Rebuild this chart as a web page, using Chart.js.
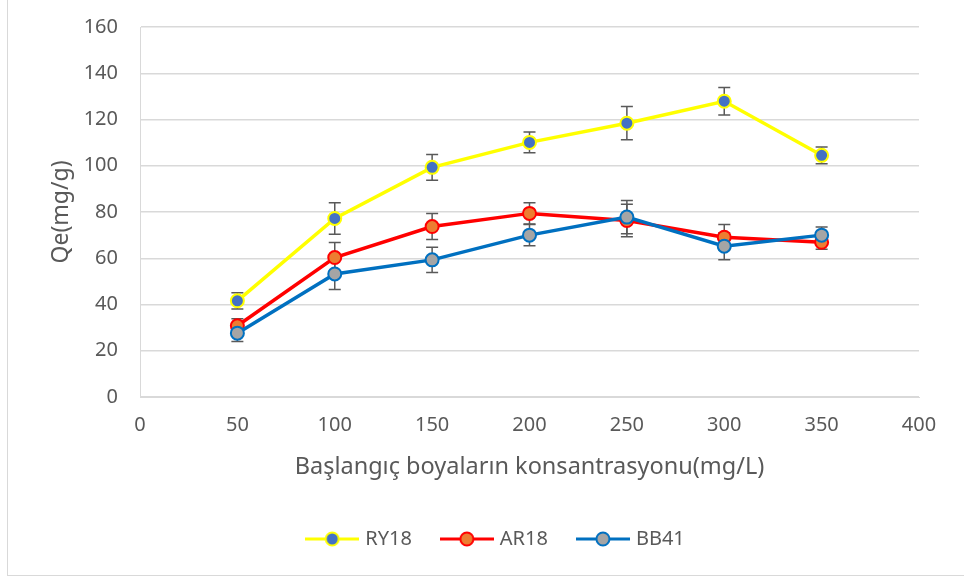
<!DOCTYPE html>
<html>
<head>
<meta charset="utf-8">
<script src="https://cdn.jsdelivr.net/npm/chart.js@4"></script>
<style>
  html, body { margin: 0; padding: 0; background: #fff; }
  #wrap { width: 964px; height: 579px; }
</style>
</head>
<body>
<div id="wrap"><canvas id="qeChart" width="964" height="579"></canvas></div>
<script>
const concentrations = [50, 100, 150, 200, 250, 300, 350];
const ry18 = [41.6, 77.2, 99.3, 110.1, 118.4, 127.9, 104.5];
const ar18 = [30.8, 60.3, 73.7, 79.4, 76.3, 69.1, 66.9];
const bb41 = [27.6, 53.2, 59.3, 70.0, 77.8, 65.2, 70.0];
const ry18Err = [3.5, 6.8, 5.6, 4.5, 7.2, 5.9, 3.6];
const ar18Err = [3.0, 6.5, 5.6, 4.6, 7.0, 5.5, 3.0];
const bb41Err = [3.6, 6.7, 5.5, 4.6, 7.2, 5.8, 3.5];

const FONT = '"Noto Sans", sans-serif';
const TXT = '#595959';

function pts(ys) {
    return concentrations.map((x, i) => ({ x: x, y: ys[i] }));
}

// legend symbol: short line with the marker on it
function legendIcon(line, fill) {
    const c = document.createElement('canvas');
    c.width = 54; c.height = 18;
    const g = c.getContext('2d');
    g.strokeStyle = line;
    g.lineWidth = 3;
    g.beginPath(); g.moveTo(0, 9); g.lineTo(54, 9); g.stroke();
    g.beginPath(); g.arc(27, 9, 6.5, 0, Math.PI * 2);
    g.fillStyle = fill; g.fill();
    g.lineWidth = 2; g.stroke();
    return c;
}

const errorBars = {
    id: 'errorBars',
    beforeDatasetsDraw(chart) {
        const { ctx, scales: { x, y } } = chart;
        ctx.save();
        ctx.strokeStyle = '#595959';
        ctx.lineWidth = 1.5;
        chart.data.datasets.forEach(ds => {
            ds.data.forEach((p, i) => {
                const e = ds.errors[i];
                const px = x.getPixelForValue(p.x);
                const top = y.getPixelForValue(p.y + e);
                const bot = y.getPixelForValue(p.y - e);
                ctx.beginPath();
                ctx.moveTo(px, top); ctx.lineTo(px, bot);
                ctx.moveTo(px - 6, top); ctx.lineTo(px + 6, top);
                ctx.moveTo(px - 6, bot); ctx.lineTo(px + 6, bot);
                ctx.stroke();
            });
        });
        ctx.restore();
    }
};

const frame = {
    id: 'frame',
    afterDraw(chart) {
        const ctx = chart.ctx;
        ctx.save();
        ctx.strokeStyle = '#d9d9d9';
        ctx.lineWidth = 1;
        ctx.strokeRect(7.5, -2, 980, 577.5);
        ctx.restore();
    }
};

function makeSet(label, ys, errs, line, fill, order) {
    return {
        label: label,
        data: pts(ys),
        errors: errs,
        showLine: true,
        borderColor: line,
        backgroundColor: fill,
        borderWidth: 3.5,
        pointRadius: 6.5,
        pointBorderWidth: 2,
        pointBorderColor: line,
        pointBackgroundColor: fill,
        order: order,
        icon: legendIcon(line, fill)
    };
}

const ctx = document.getElementById('qeChart').getContext('2d');
const qeChart = new Chart(ctx, {
    type: 'scatter',
    data: {
        datasets: [
            makeSet('RY18', ry18, ry18Err, '#FFFF00', '#4472C4', 3),
            makeSet('AR18', ar18, ar18Err, '#FF0000', '#ED7D31', 2),
            makeSet('BB41', bb41, bb41Err, '#0070C0', '#A5A5A5', 1)
        ]
    },
    options: {
        responsive: false,
        animation: false,
        layout: { padding: { left: 30, top: 27, right: 0, bottom: 20 } },
        plugins: {
            tooltip: { enabled: false },
            legend: {
                position: 'bottom',
                labels: {
                    color: TXT,
                    font: { family: FONT, size: 20 },
                    usePointStyle: true,
                    pointStyleWidth: 46,
                    padding: 32,
                    generateLabels(chart) {
                        return chart.data.datasets.map((ds, i) => ({
                            text: ds.label,
                            pointStyle: ds.icon,
                            fillStyle: ds.backgroundColor,
                            strokeStyle: ds.borderColor,
                            fontColor: TXT,
                            datasetIndex: i,
                            hidden: false
                        }));
                    }
                }
            }
        },
        scales: {
            x: {
                type: 'linear',
                min: 0,
                max: 400,
                ticks: { stepSize: 50, color: TXT, padding: 16, font: { family: FONT, size: 20 } },
                grid: { display: false, drawTicks: false },
                border: { color: '#d9d9d9' },
                title: {
                    display: true,
                    text: 'Başlangıç boyaların konsantrasyonu(mg/L)',
                    color: TXT,
                    font: { family: FONT, size: 23.5 },
                    padding: { top: 0, bottom: 16 }
                },
                afterFit(s) { s.height = 100; }
            },
            y: {
                min: 0,
                max: 160,
                ticks: { stepSize: 20, color: TXT, padding: 22, font: { family: FONT, size: 20 } },
                grid: { color: '#d9d9d9', lineWidth: 1.5, drawTicks: false },
                border: { color: '#d9d9d9', display: true },
                title: {
                    display: true,
                    text: 'Qe(mg/g)',
                    color: TXT,
                    font: { family: FONT, size: 23 },
                    padding: { top: 18, bottom: 0 }
                },
                afterFit(s) { s.width = 110; s.paddingTop = 0; }
            },
            yRight: {
                position: 'right',
                min: 0,
                max: 160,
                ticks: { display: false },
                grid: { display: false, drawTicks: false },
                border: { display: false },
                afterFit(s) { s.width = 45; s.paddingTop = 0; }
            }
        }
    },
    plugins: [errorBars, frame]
});
</script>
</body>
</html>
